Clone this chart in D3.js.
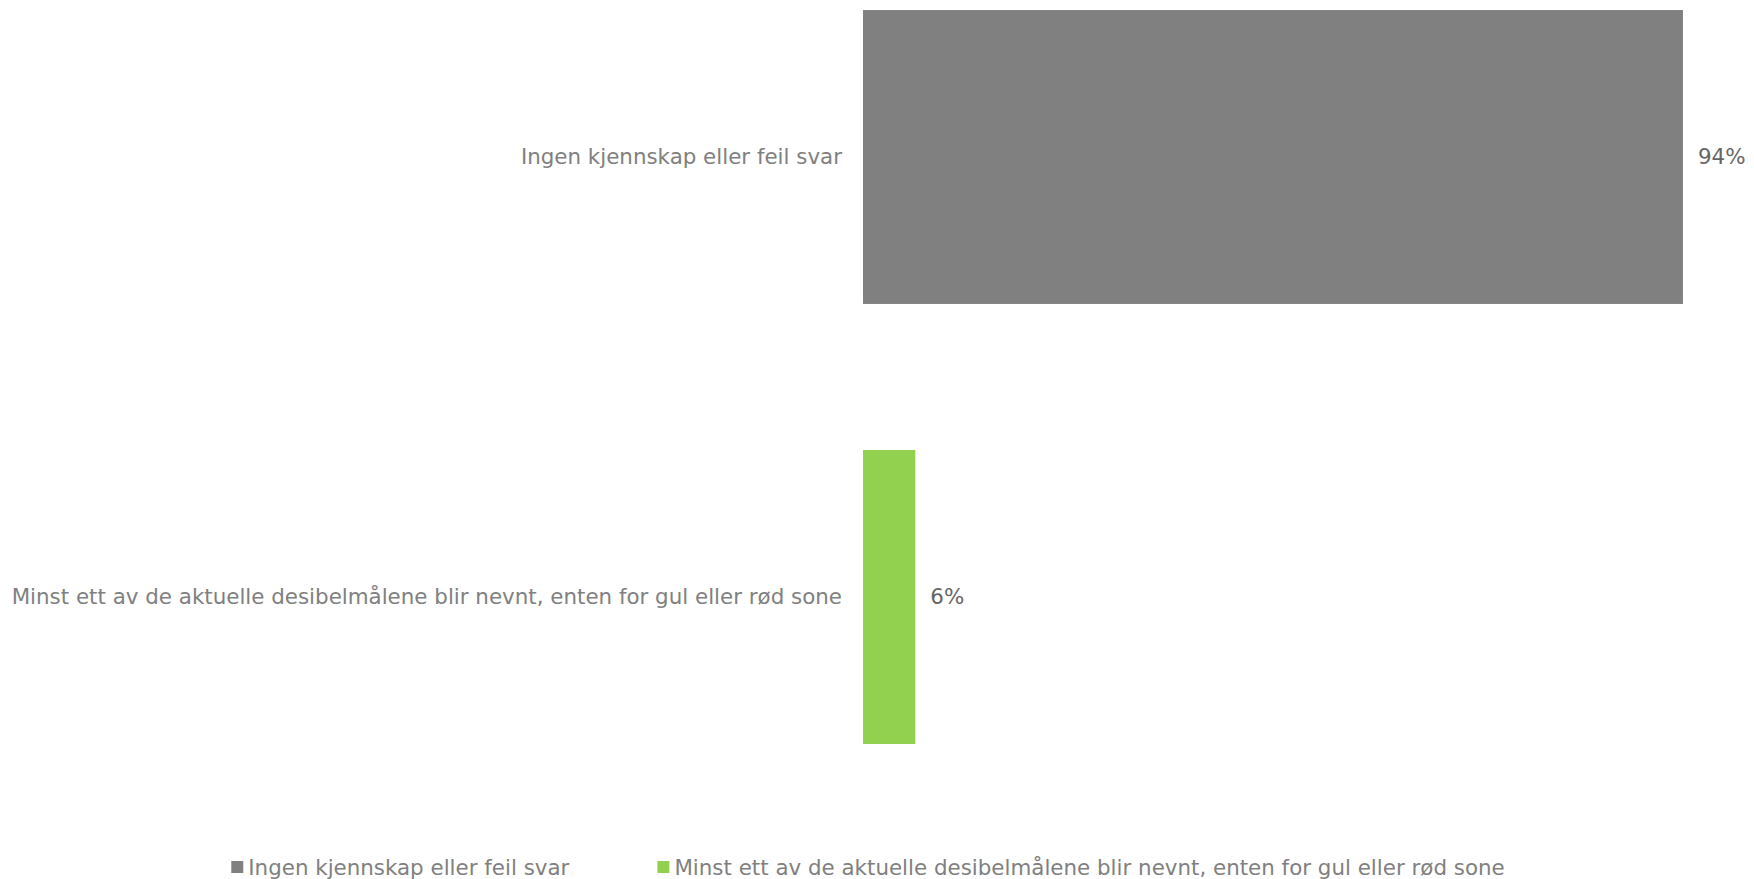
<!DOCTYPE html>
<html>
<head>
<meta charset="utf-8">
<script src="https://cdn.jsdelivr.net/npm/d3@7"></script>
<style>
  body { margin: 0; background: #fff; }
  text { font-family: "DejaVu Sans", Verdana, sans-serif; }
</style>
</head>
<body>
<svg width="1754" height="879"></svg>
<script>
// data
const categories = [
  "Ingen kjennskap eller feil svar",
  "Minst ett av de aktuelle desibelmålene blir nevnt, enten for gul eller rød sone"
];
const values = [0.94, 0.06];
const colors = ["#808080", "#92d050"];

const svg = d3.select("svg");
const fontSize = 21.4;

// scales
const x = d3.scaleLinear().domain([0, 1]).range([863, 863 + 872.3]);
const y = d3.scaleBand()
    .domain(categories)
    .range([-63, 817])
    .paddingInner(0.332)
    .paddingOuter(0.166);

// bars
svg.append("g").selectAll("rect")
    .data(categories)
    .join("rect")
    .attr("x", x(0))
    .attr("y", d => y(d))
    .attr("width", (d, i) => x(values[i]) - x(0))
    .attr("height", y.bandwidth())
    .attr("fill", (d, i) => colors[i]);

// category labels
svg.append("g").selectAll("text")
    .data(categories)
    .join("text")
    .attr("x", x(0) - 21)
    .attr("y", d => y(d) + y.bandwidth() / 2)
    .attr("dy", "0.35em")
    .attr("text-anchor", "end")
    .attr("font-size", fontSize)
    .attr("fill", "#808080")
    .text(d => d);

// value labels
svg.append("g").selectAll("text")
    .data(categories)
    .join("text")
    .attr("x", (d, i) => x(values[i]) + 15)
    .attr("y", d => y(d) + y.bandwidth() / 2)
    .attr("dy", "0.35em")
    .attr("font-size", fontSize)
    .attr("fill", "#666666")
    .text((d, i) => Math.round(values[i] * 100) + "%");

// legend
const legend = svg.append("g");
const items = legend.selectAll("g")
    .data(categories)
    .join("g");
items.append("rect")
    .attr("width", 12).attr("height", 12)
    .attr("y", -6)
    .attr("fill", (d, i) => colors[i]);
items.append("text")
    .attr("x", 17)
    .attr("dy", "0.35em")
    .attr("font-size", fontSize)
    .attr("fill", "#808080")
    .text(d => d);

let lx = 0;
items.each(function() {
    const w = d3.select(this).select("text").node().getComputedTextLength() + 17;
    d3.select(this).attr("transform", "translate(" + lx + ",0)");
    lx += w + 88;
});
const total = lx - 88;
legend.attr("transform", "translate(" + (868 - total / 2) + ",867)");
</script>
</body>
</html>
